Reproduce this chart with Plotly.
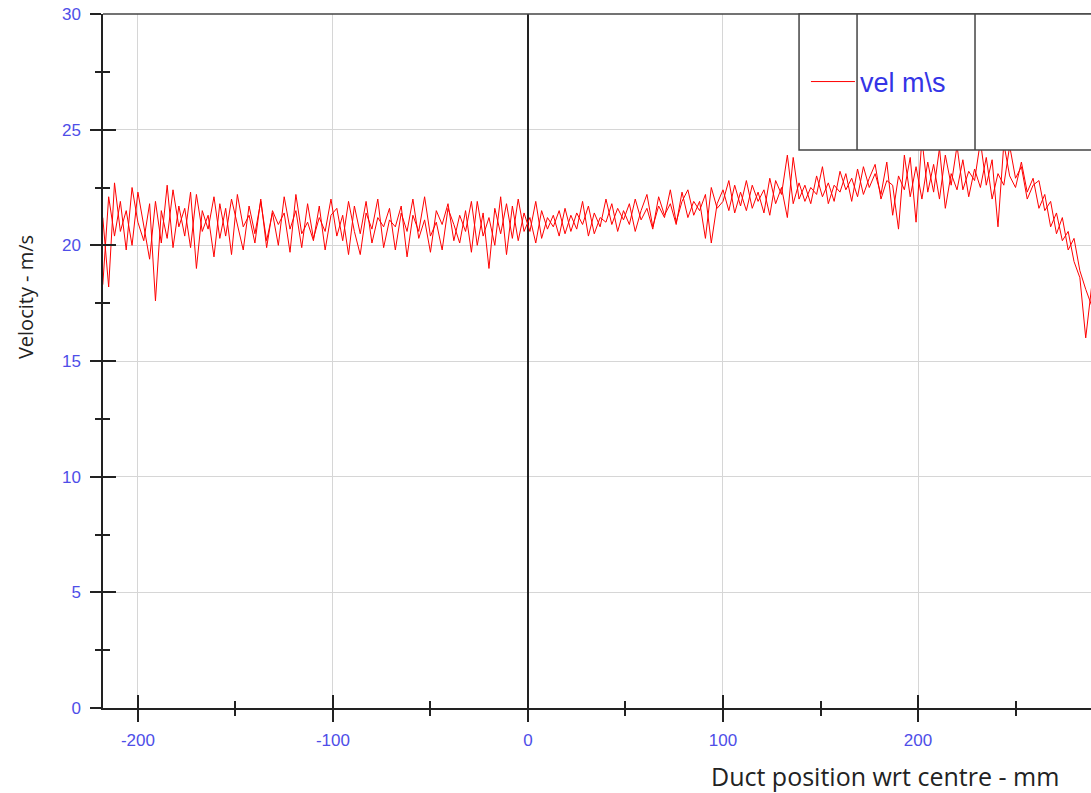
import plotly.graph_objects as go

# Traverse positions (mm from duct centre), sampled every 3 mm
positions = [
    -218, -215, -212, -209, -206, -203, -200, -197, -194, -191,
    -188, -185, -182, -179, -176, -173, -170, -167, -164, -161,
    -158, -155, -152, -149, -146, -143, -140, -137, -134, -131,
    -128, -125, -122, -119, -116, -113, -110, -107, -104, -101,
    -98, -95, -92, -89, -86, -83, -80, -77, -74, -71,
    -68, -65, -62, -59, -56, -53, -50, -47, -44, -41,
    -38, -35, -32, -29, -26, -23, -20, -17, -14, -11,
    -8, -5, -2, 1, 4, 7, 10, 13, 16, 19,
    22, 25, 28, 31, 34, 37, 40, 43, 46, 49,
    52, 55, 58, 61, 64, 67, 70, 73, 76, 79,
    82, 85, 88, 91, 94, 97, 100, 103, 106, 109,
    112, 115, 118, 121, 124, 127, 130, 133, 136, 139,
    142, 145, 148, 151, 154, 157, 160, 163, 166, 169,
    172, 175, 178, 181, 184, 187, 190, 193, 196, 199,
    202, 205, 208, 211, 214, 217, 220, 223, 226, 229,
    232, 235, 238, 241, 244, 247, 250, 253, 256, 259,
    262, 265, 268, 271, 274, 277, 280, 283, 286, 289,
]

# Velocity (m/s) on the outward pass
vel_pass_out = [
    18.3, 22.1, 20.4, 21.9, 19.8, 22.5, 21.0, 20.2, 21.8, 17.6,
    21.5, 20.3, 22.4, 20.8, 21.6, 19.9, 22.2, 20.6, 21.3, 19.5,
    21.8, 20.4, 22.0, 20.9, 19.8, 21.7, 20.5, 21.9, 20.2, 21.4,
    20.0, 22.1, 20.7, 21.5, 19.9, 21.8, 20.3, 21.2, 20.6, 22.0,
    20.4, 21.3, 19.6, 21.7, 20.5, 21.9, 20.1, 21.2, 20.8, 21.6,
    19.8, 21.4, 20.6, 22.0, 20.3, 21.1, 19.7, 21.5, 20.9, 21.8,
    20.2, 21.3, 20.6, 21.9, 20.0, 21.4, 19.0, 21.6, 20.5, 21.8,
    20.3, 22.0, 20.6, 21.2, 20.1, 21.5, 20.7, 21.3, 20.4, 21.6,
    20.6, 21.4, 20.9, 21.7, 20.5, 21.2, 21.0, 21.8, 20.6, 21.5,
    20.9, 22.0, 21.1, 21.6, 20.7, 22.1, 21.3, 21.8, 20.9, 22.3,
    21.2, 21.9, 21.5, 22.2, 20.1, 21.8, 22.4, 21.5, 22.6, 21.7,
    22.8, 21.6, 22.3, 21.4, 22.9, 21.8, 22.5, 21.2, 23.8, 22.0,
    22.6, 21.8, 23.0, 22.1, 22.7, 21.9, 23.2, 22.4, 22.9, 22.1,
    23.4, 22.5, 23.1, 22.2, 23.6, 21.3, 23.0, 22.4, 23.8, 21.0,
    24.6, 22.3, 23.5, 22.0, 23.9, 22.6, 24.3, 22.4, 23.2, 22.8,
    24.5, 22.6, 23.7, 20.8, 24.4, 23.0, 22.5, 23.6, 22.3, 22.9,
    21.6, 22.2, 20.8, 21.4, 20.2, 20.6, 19.3, 18.6, 16.0, 18.2,
]

# Velocity (m/s) on the return pass (listed in position order)
vel_pass_back = [
    21.2, 18.2, 22.7, 20.6, 21.5, 20.0, 22.3, 20.8, 19.4, 21.9,
    20.1, 22.6, 19.9, 21.7, 20.4, 22.3, 19.0, 21.5, 20.7, 22.1,
    20.3, 21.6, 19.6, 22.2, 20.8, 21.3, 20.1, 22.0, 19.9, 21.5,
    20.9, 21.4, 19.7, 22.2, 20.5, 21.0, 20.2, 21.7, 19.8, 21.3,
    21.6, 20.2, 21.9, 20.6, 19.6, 21.4, 20.7, 22.0, 19.9, 21.1,
    20.8, 21.7, 19.5, 21.3, 20.6, 22.1, 20.4, 21.0, 19.8, 21.6,
    20.9, 20.1, 21.5, 19.7, 21.9, 20.4, 21.2, 20.0, 22.1, 19.6,
    21.7, 20.2, 21.4, 20.6, 21.9, 20.3, 21.2, 20.8, 21.5, 20.5,
    21.3, 20.7, 21.9, 20.4, 21.4, 20.8, 22.0, 20.9, 21.6, 21.1,
    21.8, 20.6, 21.5, 22.2, 20.8, 21.7, 21.2, 22.4, 21.0, 21.9,
    22.4, 21.3, 21.9, 20.3, 22.5, 21.6, 21.9, 22.8, 21.4, 22.3,
    21.5, 22.6, 21.9, 22.4, 21.3, 22.8, 22.2, 23.9, 21.8, 22.7,
    21.9, 22.5, 22.2, 23.4, 21.8, 22.6, 22.3, 23.1, 21.9, 23.3,
    22.2, 22.9, 23.5, 22.0, 22.8, 22.6, 20.7, 23.9, 22.1, 23.4,
    22.0, 23.6, 22.3, 24.2, 21.6, 23.1, 22.4, 23.7, 22.1, 23.3,
    22.5, 23.8, 22.0, 23.1, 22.6, 24.3, 22.9, 23.4, 22.0, 22.6,
    22.8, 21.5, 21.9, 20.5, 21.2, 19.8, 20.3, 18.9, 18.1, 17.4,
]

x_ticks = [-200, -100, 0, 100, 200]
x_tick_labels = ["-200", "-100", "0", "100", "200"]
y_ticks = [0, 5, 10, 15, 20, 25, 30]
x_range = [-217.9, 288.7]
y_range = [0, 30]
series_name = "vel m\\s"

x_all = positions + positions[::-1]
y_all = vel_pass_out + vel_pass_back[::-1]

TICK_BLUE = "#4e4ee8"
AXIS = "#222222"
GRID = "#d6d6d6"
BOX = "#444444"

fig = go.Figure()
fig.add_trace(go.Scatter(
    x=x_all, y=y_all, mode="lines", name=series_name,
    line=dict(color="#ff0000", width=1),
))
# helper trace so the overlaid (inside-tick) axes are drawn
fig.add_trace(go.Scatter(x=[], y=[], xaxis="x2", yaxis="y2",
                         showlegend=False, hoverinfo="skip"))

tickfont = dict(family="Liberation Sans, Arial, sans-serif", size=17, color=TICK_BLUE)

fig.update_layout(
    width=1091, height=793,
    margin=dict(l=103, r=0, t=14, b=85, autoexpand=False),
    paper_bgcolor="white", plot_bgcolor="white",
    xaxis=dict(
        range=x_range, tickvals=x_ticks, ticktext=x_tick_labels, automargin=False,
        showgrid=True, gridcolor=GRID, gridwidth=1,
        zeroline=True, zerolinecolor=AXIS, zerolinewidth=1.5,
        showline=True, linecolor=AXIS, linewidth=1.5,
        ticks="outside", ticklen=12, tickwidth=1.5, tickcolor=AXIS,
        minor=dict(dtick=50, tick0=0, ticks="outside", ticklen=6, tickwidth=1.5,
                   tickcolor=AXIS, showgrid=False),
        tickfont=tickfont, ticklabelstandoff=4, ticklabeloverflow="allow",
    ),
    xaxis2=dict(
        range=x_range, overlaying="x", anchor="y", side="bottom", automargin=False,
        tickvals=x_ticks, showgrid=False, zeroline=False, showline=False,
        ticks="inside", ticklen=13, tickwidth=1.5, tickcolor=AXIS,
        minor=dict(dtick=50, tick0=0, ticks="inside", ticklen=7, tickwidth=1.5,
                   tickcolor=AXIS, showgrid=False),
        showticklabels=False,
    ),
    yaxis=dict(
        range=y_range, tickvals=y_ticks, automargin=False,
        showgrid=True, gridcolor=GRID, gridwidth=1,
        zeroline=False, showline=True, linecolor=AXIS, linewidth=1.5,
        ticks="outside", ticklen=11, tickwidth=1.5, tickcolor=AXIS,
        minor=dict(dtick=2.5, tick0=0, ticks="outside", ticklen=6, tickwidth=1.5,
                   tickcolor=AXIS, showgrid=False),
        tickfont=tickfont, ticklabelstandoff=6, ticklabeloverflow="allow",
    ),
    yaxis2=dict(
        range=y_range, overlaying="y", anchor="x", side="left", automargin=False,
        tickvals=y_ticks, showgrid=False, zeroline=False, showline=False,
        ticks="inside", ticklen=13, tickwidth=1.5, tickcolor=AXIS,
        minor=dict(dtick=2.5, tick0=0, ticks="inside", ticklen=7, tickwidth=1.5,
                   tickcolor=AXIS, showgrid=False),
        showticklabels=False,
    ),
    showlegend=True,
    legend=dict(
        x=0.7115, xanchor="left", y=0.902, yanchor="middle",
        itemwidth=44,
        bgcolor="rgba(0,0,0,0)", borderwidth=0,
        font=dict(family="Liberation Sans, Arial, sans-serif", size=27, color="#3434e6"),
    ),
)

# top frame line
fig.add_shape(type="line", xref="paper", yref="paper", x0=0, x1=1, y0=1, y1=1,
              line=dict(color=BOX, width=1.5), layer="above")
# legend frame with dividers
fig.add_shape(type="rect", xref="paper", yref="paper", x0=0.7045, x1=1.01, y0=0.804, y1=1,
              fillcolor="white", line=dict(color=BOX, width=1.5), layer="above")
for xv in (0.7632, 0.8826):
    fig.add_shape(type="line", xref="paper", yref="paper", x0=xv, x1=xv, y0=0.804, y1=1,
                  line=dict(color=BOX, width=1.5), layer="above")

# axis titles
fig.add_annotation(text="Velocity - m/s", xref="paper", yref="paper",
                   x=-0.079, y=0.592, xanchor="center", yanchor="middle",
                   textangle=-90, showarrow=False,
                   font=dict(family="Open Sans, sans-serif", size=20, color="#222222"))
fig.add_annotation(text="Duct position wrt centre - mm", xref="paper", yref="paper",
                   x=0.7915, y=-0.098, xanchor="center", yanchor="middle",
                   showarrow=False,
                   font=dict(family="Open Sans, sans-serif", size=25, color="#222222"))

# remove the default 8px page margin so the figure sits at the window origin
fig.write_html("out.html",
               config={"displayModeBar": False},
               post_script="document.body.style.margin='0';document.body.style.overflow='hidden';")
